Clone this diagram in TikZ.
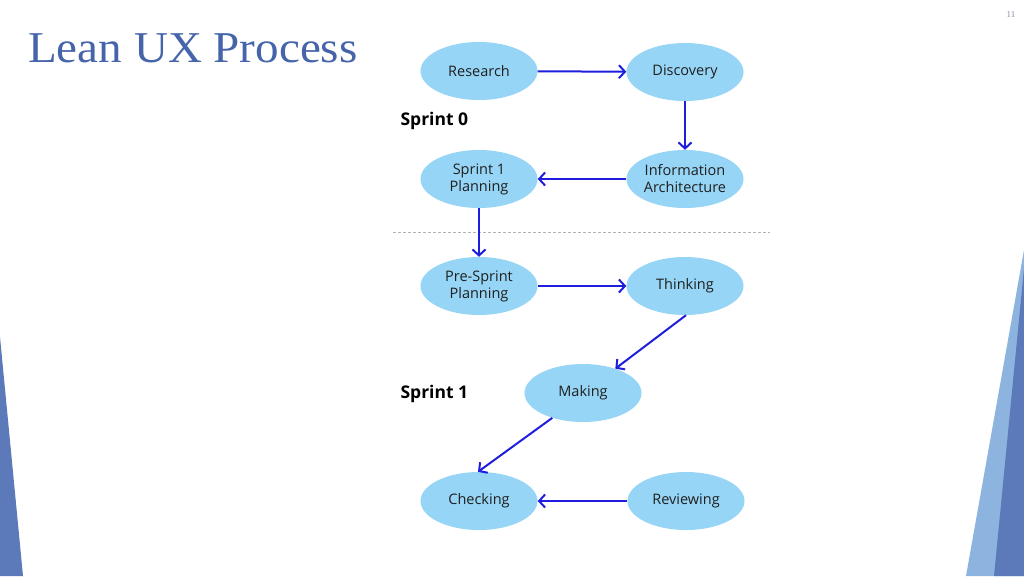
\documentclass[tikz,border=0pt]{standalone}
\usepackage{fontspec}
\setmainfont{Liberation Serif}
\newfontfamily\nodefont{Open Sans}
\newfontfamily\titlefont[FakeStretch=1.07]{Liberation Serif}
\newfontfamily\smallfont{Liberation Serif}
\usetikzlibrary{shapes.geometric,arrows.meta}
\definecolor{titleblue}{RGB}{70,100,170}
\definecolor{ellfill}{RGB}{150,213,246}
\definecolor{arrowblue}{RGB}{30,30,220}
\definecolor{decodark}{RGB}{92,122,185}
\definecolor{decolight}{RGB}{141,180,222}
\definecolor{pagegray}{RGB}{140,140,170}
\begin{document}
\begin{tikzpicture}[x=1pt,y=-1pt,
  proc/.style={ellipse,fill=ellfill,draw=none,minimum width=117pt,minimum height=58pt,inner sep=0pt,align=center,font=\nodefont\fontsize{14.5}{17}\selectfont,text=black!88},
  flow/.style={draw=arrowblue,line width=2pt,-{Straight Barb[length=6pt,width=13pt,line width=2pt]}},
  sprint/.style={anchor=west,font=\nodefont\bfseries\fontsize{17.5}{19}\selectfont}]
\useasboundingbox (0,0) rectangle (1024,576);
\fill[white] (0,0) rectangle (1024,576);
% decorations
\fill[decodark] (0,337) -- (23,576) -- (0,576) -- cycle;
\fill[decolight] (1024,250) -- (966,576) -- (1024,576) -- cycle;
\fill[decodark] (1024,268) -- (994,576) -- (1024,576) -- cycle;
% title and page number
\node[anchor=base west,inner sep=0pt,text=titleblue,font=\titlefont\fontsize{44}{48}\selectfont] (title) at (28,62) {Lean UX Process};
\node[inner sep=0pt,text=pagegray,font=\smallfont\fontsize{9}{10}\selectfont] (pagenum) at (1011,15) {11};
% dashed separator
\coordinate (sepL) at (393,232);
\coordinate (sepR) at (770,232);
\draw[gray!60,line width=0.6pt,dash pattern=on 3pt off 2pt] (sepL) -- (sepR);
% nodes
\node[proc] (research) at (479,71) {Research};
\node[proc] (discovery) at (685,72) {Discovery};
\node[proc] (s1plan) at (479,179) {Sprint 1\\Planning};
\node[proc] (infoarch) at (685,179) {Information\\Architecture};
\node[proc] (preplan) at (479,286) {Pre-Sprint\\Planning};
\node[proc] (thinking) at (685,286) {Thinking};
\node[proc] (making) at (583,393) {Making};
\node[proc] (checking) at (479,501) {Checking};
\node[proc] (reviewing) at (686,501) {Reviewing};
% labels
\node[sprint] (sp0) at (397,121) {Sprint 0};
\node[sprint] (sp1) at (397,394) {Sprint 1};
% connectors
\draw[flow] (research) -- (discovery);
\draw[flow] (discovery) -- (infoarch);
\draw[flow] (infoarch) -- (s1plan);
\draw[flow] (s1plan) -- (preplan);
\draw[flow] (preplan) -- (thinking);
\draw[flow] (thinking.-88) -- (making.37);
\draw[flow] (making.-141) -- (checking.92);
\draw[flow] (reviewing) -- (checking);
\end{tikzpicture}
\end{document}
